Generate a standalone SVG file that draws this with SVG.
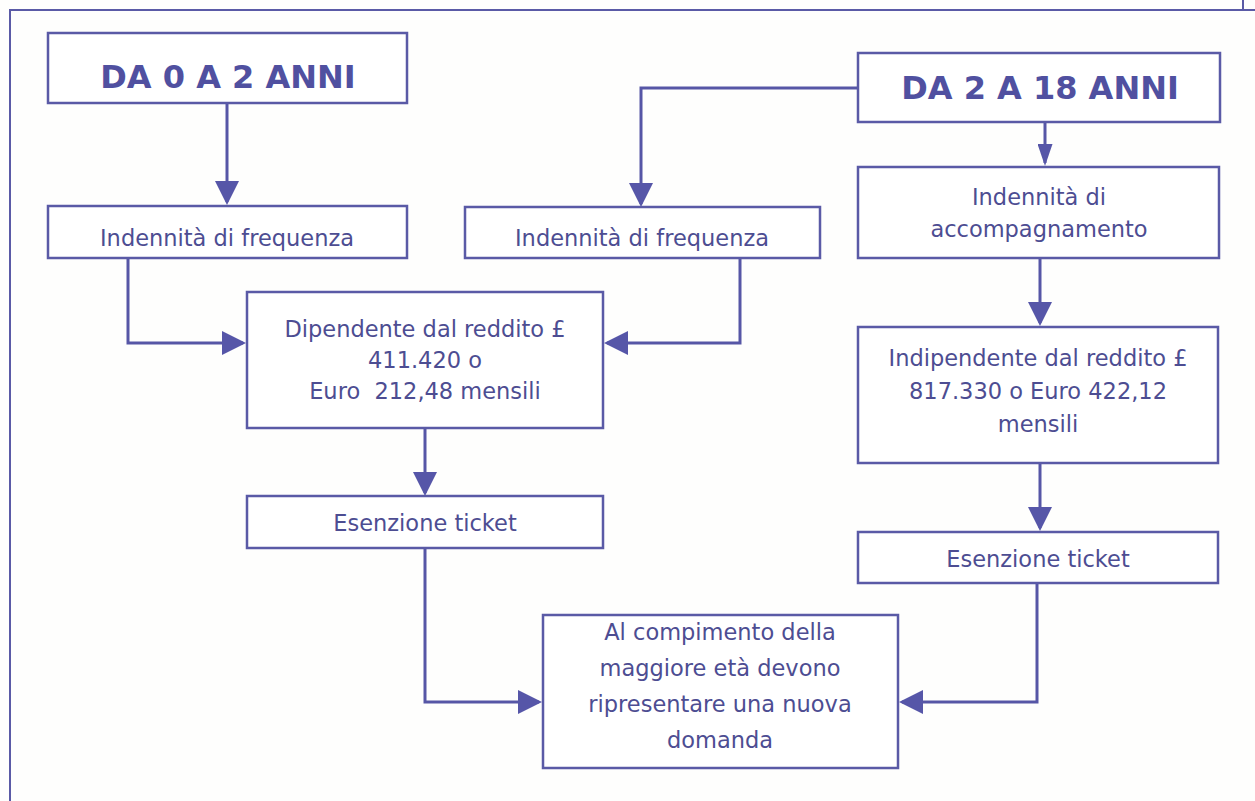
<svg xmlns="http://www.w3.org/2000/svg" width="1255" height="801" viewBox="0 0 1255 801">
<style>
.bg{fill:#fefefd}
.box{fill:#ffffff;stroke:#5a5aa6;stroke-width:2.5}
.frame{fill:none;stroke:#5a5aa6;stroke-width:2}
.con{fill:none;stroke:#5656a6;stroke-width:3}
.t{font-family:"DejaVu Sans","Liberation Sans",sans-serif;font-size:22.5px;fill:#4d4d92;text-anchor:middle}
.h{font-family:"DejaVu Sans","Liberation Sans",sans-serif;font-size:32px;font-weight:bold;fill:#5050a0;text-anchor:middle}
.pre{white-space:pre}
</style>
<defs>
<marker id="arr" viewBox="0 0 24 24" refX="21" refY="12" markerWidth="24" markerHeight="24" markerUnits="userSpaceOnUse" orient="auto">
<path d="M0,0 L24,12 L0,24 z" fill="#5656a8"/>
</marker>
<marker id="arrS" viewBox="0 0 22 15" refX="19" refY="7.5" markerWidth="22" markerHeight="15" markerUnits="userSpaceOnUse" orient="auto">
<path d="M0,0 L22,7.5 L0,15 z" fill="#5656a8"/>
</marker>
</defs>
<rect class="bg" x="0" y="0" width="1255" height="801"/>
<g id="frame">
<path class="frame" d="M10,801 V10 H1255"/>
<path class="frame" d="M1243,0 V10"/>
</g>
<g id="connectors">
<path class="con" d="M227,103 V202" marker-end="url(#arr)"/>
<path class="con" d="M858,88 H641 V204" marker-end="url(#arr)"/>
<path class="con" d="M1045,121 V163" marker-end="url(#arrS)"/>
<path class="con" d="M128,258 V343 H243" marker-end="url(#arr)"/>
<path class="con" d="M740,258 V343 H607" marker-end="url(#arr)"/>
<path class="con" d="M1040,258 V323" marker-end="url(#arr)"/>
<path class="con" d="M425,428 V493" marker-end="url(#arr)"/>
<path class="con" d="M1040,463 V528" marker-end="url(#arr)"/>
<path class="con" d="M425,548 V702 H539" marker-end="url(#arr)"/>
<path class="con" d="M1037,583 V702 H902" marker-end="url(#arr)"/>
</g>
<g id="n-da0">
<rect class="box" x="48" y="33" width="359" height="70"/>
<text class="h" x="228" y="88">DA 0 A 2 ANNI</text>
</g>
<g id="n-da2">
<rect class="box" x="858" y="53" width="362" height="69"/>
<text class="h" x="1040" y="99">DA 2 A 18 ANNI</text>
</g>
<g id="n-ind-l">
<rect class="box" x="48" y="206" width="359" height="52"/>
<text class="t" x="227" y="246">Indennità di frequenza</text>
</g>
<g id="n-ind-m">
<rect class="box" x="465" y="207" width="355" height="51"/>
<text class="t" x="642" y="246">Indennità di frequenza</text>
</g>
<g id="n-acc">
<rect class="box" x="858" y="167" width="361" height="91"/>
<text class="t" x="1039" y="205">Indennità di</text>
<text class="t" x="1039" y="237">accompagnamento</text>
</g>
<g id="n-dip">
<rect class="box" x="247" y="292" width="356" height="136"/>
<text class="t" x="425" y="337">Dipendente dal reddito £</text>
<text class="t" x="425" y="368">411.420 o</text>
<text class="t pre" x="425" y="399">Euro  212,48 mensili</text>
</g>
<g id="n-indip">
<rect class="box" x="858" y="327" width="360" height="136"/>
<text class="t" x="1038" y="366">Indipendente dal reddito £</text>
<text class="t" x="1038" y="399">817.330 o Euro 422,12</text>
<text class="t" x="1038" y="432">mensili</text>
</g>
<g id="n-ese-l">
<rect class="box" x="247" y="496" width="356" height="52"/>
<text class="t" x="425" y="531">Esenzione ticket</text>
</g>
<g id="n-ese-r">
<rect class="box" x="858" y="532" width="360" height="51"/>
<text class="t" x="1038" y="567">Esenzione ticket</text>
</g>
<g id="n-final">
<rect class="box" x="543" y="615" width="355" height="153"/>
<text class="t" x="720" y="640">Al compimento della</text>
<text class="t" x="720" y="676">maggiore età devono</text>
<text class="t" x="720" y="712">ripresentare una nuova</text>
<text class="t" x="720" y="748">domanda</text>
</g>
</svg>
